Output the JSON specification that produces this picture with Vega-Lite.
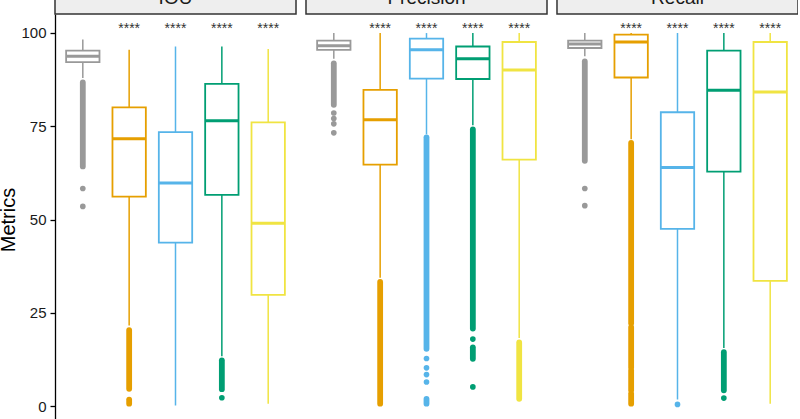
{
  "$schema": "https://vega.github.io/schema/vega-lite/v6.json",
  "autosize": {"type": "none"},
  "padding": {"left": 55, "top": 14, "right": 0, "bottom": 0},
  "width": 743,
  "height": 411,
  "config": {
    "view": {"stroke": null},
    "font": "Liberation Sans",
    "axis": {"grid": false, "domainColor": "#000000", "domainWidth": 1.3, "tickColor": "#000000", "tickWidth": 1.3, "tickSize": 5, "labelFontSize": 15, "labelColor": "#1a1a1a", "labelPadding": 4, "titleFontSize": 20, "titleFontWeight": "normal", "titleColor": "#000000", "titlePadding": 2}
  },
  "data": {"values": [
    {"kind": "box", "metric": "IOU", "group": "M0", "lo": 87.9, "q1": 92.1, "med": 93.7, "q3": 95.2, "hi": 98.2},
    {"kind": "box", "metric": "IOU", "group": "M1", "lo": 21.6, "q1": 56.1, "med": 71.6, "q3": 80.0, "hi": 95.4},
    {"kind": "box", "metric": "IOU", "group": "M2", "lo": 0.2, "q1": 43.8, "med": 59.8, "q3": 73.4, "hi": 96.3},
    {"kind": "box", "metric": "IOU", "group": "M3", "lo": 13.4, "q1": 56.6, "med": 76.4, "q3": 86.3, "hi": 96.3},
    {"kind": "box", "metric": "IOU", "group": "M4", "lo": 0.7, "q1": 29.8, "med": 49.0, "q3": 76.0, "hi": 95.6},
    {"kind": "box", "metric": "Precision", "group": "M0", "lo": 93.0, "q1": 95.4, "med": 96.5, "q3": 97.9, "hi": 99.9},
    {"kind": "box", "metric": "Precision", "group": "M1", "lo": 34.4, "q1": 64.7, "med": 76.7, "q3": 84.7, "hi": 99.9},
    {"kind": "box", "metric": "Precision", "group": "M2", "lo": 72.8, "q1": 87.7, "med": 95.4, "q3": 98.4, "hi": 99.9},
    {"kind": "box", "metric": "Precision", "group": "M3", "lo": 75.2, "q1": 87.6, "med": 93.0, "q3": 96.3, "hi": 99.9},
    {"kind": "box", "metric": "Precision", "group": "M4", "lo": 18.3, "q1": 66.0, "med": 90.0, "q3": 97.5, "hi": 99.9},
    {"kind": "box", "metric": "Recall", "group": "M0", "lo": 93.7, "q1": 95.9, "med": 97.0, "q3": 97.9, "hi": 99.9},
    {"kind": "box", "metric": "Recall", "group": "M1", "lo": 71.5, "q1": 88.0, "med": 97.5, "q3": 99.5, "hi": 99.9},
    {"kind": "box", "metric": "Recall", "group": "M2", "lo": 1.8, "q1": 47.5, "med": 63.9, "q3": 78.7, "hi": 99.9},
    {"kind": "box", "metric": "Recall", "group": "M3", "lo": 15.6, "q1": 62.8, "med": 84.6, "q3": 95.2, "hi": 99.9},
    {"kind": "box", "metric": "Recall", "group": "M4", "lo": 0.7, "q1": 33.6, "med": 84.1, "q3": 97.5, "hi": 99.9},

    {"kind": "run", "metric": "IOU", "group": "M0", "y1": 86.7, "y2": 64.2},
    {"kind": "run", "metric": "IOU", "group": "M1", "y1": 20.4, "y2": 4.7},
    {"kind": "run", "metric": "IOU", "group": "M1", "y1": 1.8, "y2": 0.7},
    {"kind": "run", "metric": "IOU", "group": "M3", "y1": 12.3, "y2": 4.6},
    {"kind": "run", "metric": "Precision", "group": "M0", "y1": 91.8, "y2": 80.7},
    {"kind": "run", "metric": "Precision", "group": "M1", "y1": 33.3, "y2": 0.7},
    {"kind": "run", "metric": "Precision", "group": "M2", "y1": 72.0, "y2": 15.4},
    {"kind": "run", "metric": "Precision", "group": "M2", "y1": 2.0, "y2": 0.7},
    {"kind": "run", "metric": "Precision", "group": "M3", "y1": 74.1, "y2": 20.8},
    {"kind": "run", "metric": "Precision", "group": "M3", "y1": 15.8, "y2": 12.7},
    {"kind": "run", "metric": "Precision", "group": "M4", "y1": 17.1, "y2": 2.0},
    {"kind": "run", "metric": "Recall", "group": "M0", "y1": 92.3, "y2": 65.7},
    {"kind": "run", "metric": "Recall", "group": "M1", "y1": 70.5, "y2": 22.2},
    {"kind": "run", "metric": "Recall", "group": "M1", "y1": 21.2, "y2": 10.4},
    {"kind": "run", "metric": "Recall", "group": "M1", "y1": 9.6, "y2": 4.3},
    {"kind": "run", "metric": "Recall", "group": "M1", "y1": 3.4, "y2": 0.7},
    {"kind": "run", "metric": "Recall", "group": "M3", "y1": 14.5, "y2": 4.3},

    {"kind": "pt", "metric": "IOU", "group": "M0", "v": 58.3},
    {"kind": "pt", "metric": "IOU", "group": "M0", "v": 53.5},
    {"kind": "pt", "metric": "IOU", "group": "M3", "v": 2.3},
    {"kind": "pt", "metric": "Precision", "group": "M0", "v": 78.5},
    {"kind": "pt", "metric": "Precision", "group": "M0", "v": 77.0},
    {"kind": "pt", "metric": "Precision", "group": "M0", "v": 75.6},
    {"kind": "pt", "metric": "Precision", "group": "M0", "v": 73.2},
    {"kind": "pt", "metric": "Precision", "group": "M2", "v": 12.8},
    {"kind": "pt", "metric": "Precision", "group": "M2", "v": 10.3},
    {"kind": "pt", "metric": "Precision", "group": "M2", "v": 8.5},
    {"kind": "pt", "metric": "Precision", "group": "M2", "v": 6.5},
    {"kind": "pt", "metric": "Precision", "group": "M3", "v": 18.0},
    {"kind": "pt", "metric": "Precision", "group": "M3", "v": 5.2},
    {"kind": "pt", "metric": "Recall", "group": "M0", "v": 58.3},
    {"kind": "pt", "metric": "Recall", "group": "M0", "v": 53.7},
    {"kind": "pt", "metric": "Recall", "group": "M2", "v": 0.5},
    {"kind": "pt", "metric": "Recall", "group": "M3", "v": 2.2},

    {"kind": "star", "metric": "IOU", "group": "M1", "label": "****", "v": 99.9},
    {"kind": "star", "metric": "IOU", "group": "M2", "label": "****", "v": 99.9},
    {"kind": "star", "metric": "IOU", "group": "M3", "label": "****", "v": 99.9},
    {"kind": "star", "metric": "IOU", "group": "M4", "label": "****", "v": 99.9},
    {"kind": "star", "metric": "Precision", "group": "M1", "label": "****", "v": 99.9},
    {"kind": "star", "metric": "Precision", "group": "M2", "label": "****", "v": 99.9},
    {"kind": "star", "metric": "Precision", "group": "M3", "label": "****", "v": 99.9},
    {"kind": "star", "metric": "Precision", "group": "M4", "label": "****", "v": 99.9},
    {"kind": "star", "metric": "Recall", "group": "M1", "label": "****", "v": 99.9},
    {"kind": "star", "metric": "Recall", "group": "M2", "label": "****", "v": 99.9},
    {"kind": "star", "metric": "Recall", "group": "M3", "label": "****", "v": 99.9},
    {"kind": "star", "metric": "Recall", "group": "M4", "label": "****", "v": 99.9},

    {"kind": "strip", "metric": "IOU", "s1": 105, "s2": 114, "st": 107.7},
    {"kind": "strip", "metric": "Precision", "s1": 105, "s2": 114, "st": 107.7},
    {"kind": "strip", "metric": "Recall", "s1": 105, "s2": 114, "st": 107.7}
  ]},
  "encoding": {
    "x": {"field": "metric", "type": "nominal", "sort": ["IOU", "Precision", "Recall"], "scale": {"paddingInner": 0.0398, "paddingOuter": 0}, "axis": null}
  },
  "layer": [
    {
      "transform": [{"filter": "datum.kind === 'box'"}],
      "mark": {"type": "rule", "strokeWidth": 1.5},
      "encoding": {
        "xOffset": {"field": "group", "type": "nominal", "scale": {"domain": ["M0", "M1", "M2", "M3", "M4"], "paddingInner": 0.28, "paddingOuter": 0.24}},
        "y": {"field": "lo", "type": "quantitative", "title": "Metrics", "scale": {"domain": [-5, 105], "nice": false, "zero": false}, "axis": {"title": "Metrics", "values": [0, 25, 50, 75, 100]}},
        "y2": {"field": "hi"},
        "color": {"field": "group", "type": "nominal", "scale": {"domain": ["M0", "M1", "M2", "M3", "M4"], "range": ["#999999", "#E69F00", "#56B4E9", "#009E73", "#F0E442"]}, "legend": null}
      }
    },
    {
      "transform": [{"filter": "datum.kind === 'box'"}],
      "mark": {"type": "bar", "fill": "#ffffff", "strokeWidth": 1.8},
      "encoding": {
        "xOffset": {"field": "group", "type": "nominal"},
        "y": {"field": "q1", "type": "quantitative", "title": "Metrics"},
        "y2": {"field": "q3"},
        "stroke": {"field": "group", "type": "nominal", "scale": {"domain": ["M0", "M1", "M2", "M3", "M4"], "range": ["#999999", "#E69F00", "#56B4E9", "#009E73", "#F0E442"]}, "legend": null}
      }
    },
    {
      "transform": [{"filter": "datum.kind === 'box'"}],
      "mark": {"type": "bar", "fill": null, "strokeWidth": 3},
      "encoding": {
        "xOffset": {"field": "group", "type": "nominal"},
        "y": {"field": "med", "type": "quantitative", "title": "Metrics"},
        "y2": {"field": "med"},
        "stroke": {"field": "group", "type": "nominal", "legend": null}
      }
    },
    {
      "transform": [{"filter": "datum.kind === 'run'"}],
      "mark": {"type": "rule", "strokeWidth": 5.8, "strokeCap": "round"},
      "encoding": {
        "xOffset": {"field": "group", "type": "nominal"},
        "y": {"field": "y1", "type": "quantitative", "title": "Metrics"},
        "y2": {"field": "y2"},
        "color": {"field": "group", "type": "nominal", "legend": null}
      }
    },
    {
      "transform": [{"filter": "datum.kind === 'pt'"}],
      "mark": {"type": "circle", "size": 32, "opacity": 1},
      "encoding": {
        "xOffset": {"field": "group", "type": "nominal"},
        "y": {"field": "v", "type": "quantitative", "title": "Metrics"},
        "color": {"field": "group", "type": "nominal", "legend": null}
      }
    },
    {
      "transform": [{"filter": "datum.kind === 'star'"}],
      "mark": {"type": "text", "fontSize": 14, "color": "#333333", "baseline": "alphabetic"},
      "encoding": {
        "xOffset": {"field": "group", "type": "nominal"},
        "y": {"field": "v", "type": "quantitative", "title": "Metrics"},
        "text": {"field": "label"}
      }
    },
    {
      "transform": [{"filter": "datum.kind === 'strip'"}],
      "mark": {"type": "rect", "fill": "#EEEEEE", "stroke": "#333333", "strokeWidth": 1.5},
      "encoding": {
        "y": {"field": "s1", "type": "quantitative", "title": "Metrics"},
        "y2": {"field": "s2"}
      }
    },
    {
      "transform": [{"filter": "datum.kind === 'strip'"}],
      "mark": {"type": "text", "fontSize": 19, "color": "#1a1a1a", "baseline": "alphabetic"},
      "encoding": {
        "y": {"field": "st", "type": "quantitative", "title": "Metrics"},
        "text": {"field": "metric"}
      }
    }
  ]
}
